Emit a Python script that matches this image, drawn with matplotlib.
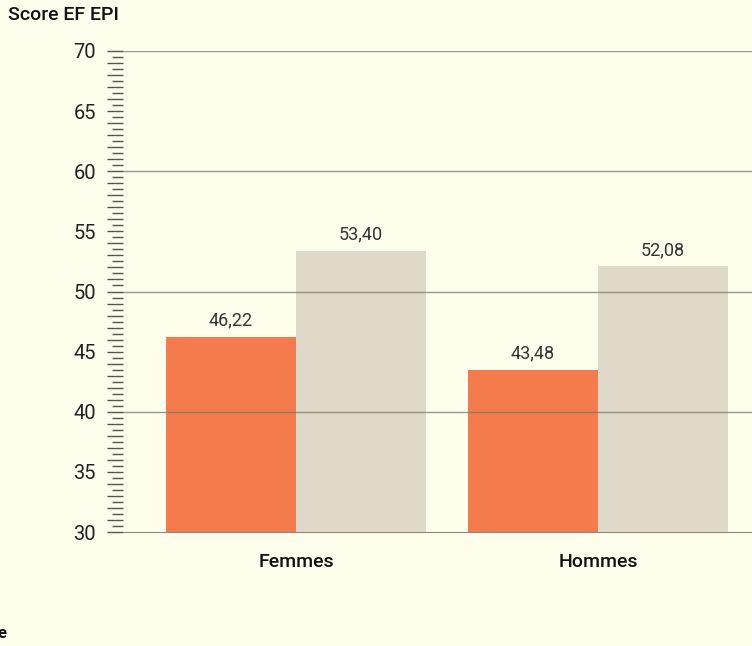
import matplotlib.pyplot as plt
import numpy as np
from matplotlib.ticker import MultipleLocator, FuncFormatter

# data
groups = ['Femmes', 'Hommes']
serie_orange = [46.22, 43.48]
serie_beige = [53.40, 52.08]
y_ticks = [30, 35, 40, 45, 50, 55, 60, 65, 70]

bg = '#fffdec'
orange = '#f47c4c'
beige = '#dfd9c9'
grid_col = '#77766c'

plt.rcParams['font.family'] = ['Roboto', 'DejaVu Sans']

fig = plt.figure(figsize=(7.52, 6.46), dpi=100, facecolor=bg)
ax = fig.add_axes([123 / 752, 114 / 646, 629 / 752, 481 / 646], facecolor=bg)

x = np.arange(len(groups))
w = 0.43
ax.bar(x - w / 2, np.array(serie_orange) - 30, w, bottom=30, color=orange, zorder=2)
ax.bar(x + w / 2, np.array(serie_beige) - 30, w, bottom=30, color=beige, zorder=2)

for xs, vals in [(x - w / 2, serie_orange), (x + w / 2, serie_beige)]:
    for xi, v in zip(xs, vals):
        ax.text(xi, v + 0.6, f'{v:.2f}'.replace('.', ','), ha='center', va='bottom',
                fontsize=13, fontweight='normal', color='#333333')

ax.set_ylim(30, 70)
ax.set_xlim(-0.573, 1.51)

# gridlines every 10, drawn over the bars
for g in [40, 50, 60, 70]:
    ax.axhline(g, color=grid_col, lw=1, alpha=0.75, zorder=3)

for s in ['left', 'right', 'top']:
    ax.spines[s].set_visible(False)
ax.spines['bottom'].set_color('#8a897e')
ax.spines['bottom'].set_zorder(3)

ax.yaxis.set_major_locator(MultipleLocator(1))
ax.yaxis.set_minor_locator(MultipleLocator(0.5))
ax.yaxis.set_major_formatter(FuncFormatter(
    lambda v, p: f'{int(round(v))}' if int(round(v)) in y_ticks and abs(v - round(v)) < 1e-6 else ''))
ax.tick_params(axis='y', which='major', length=11.5, width=1, color='#555550', pad=8,
               labelsize=14.5, labelcolor='#222222')
ax.tick_params(axis='y', which='minor', length=8, width=1, color='#555550')

ax.set_xticks(x)
ax.set_xticklabels(groups, fontsize=14, fontweight='medium', color='#111111')
ax.tick_params(axis='x', length=0, pad=15)

fig.text(8 / 752, 1 - 15 / 646, 'Score EF EPI', fontsize=14, fontweight='medium',
         color='#111111', ha='left', va='center')
fig.text(-3 / 752, 1 - 634 / 646, 'e', fontsize=12, fontweight='bold',
         color='#111111', ha='left', va='center')

fig.savefig('out.png', dpi=100, facecolor=bg)
